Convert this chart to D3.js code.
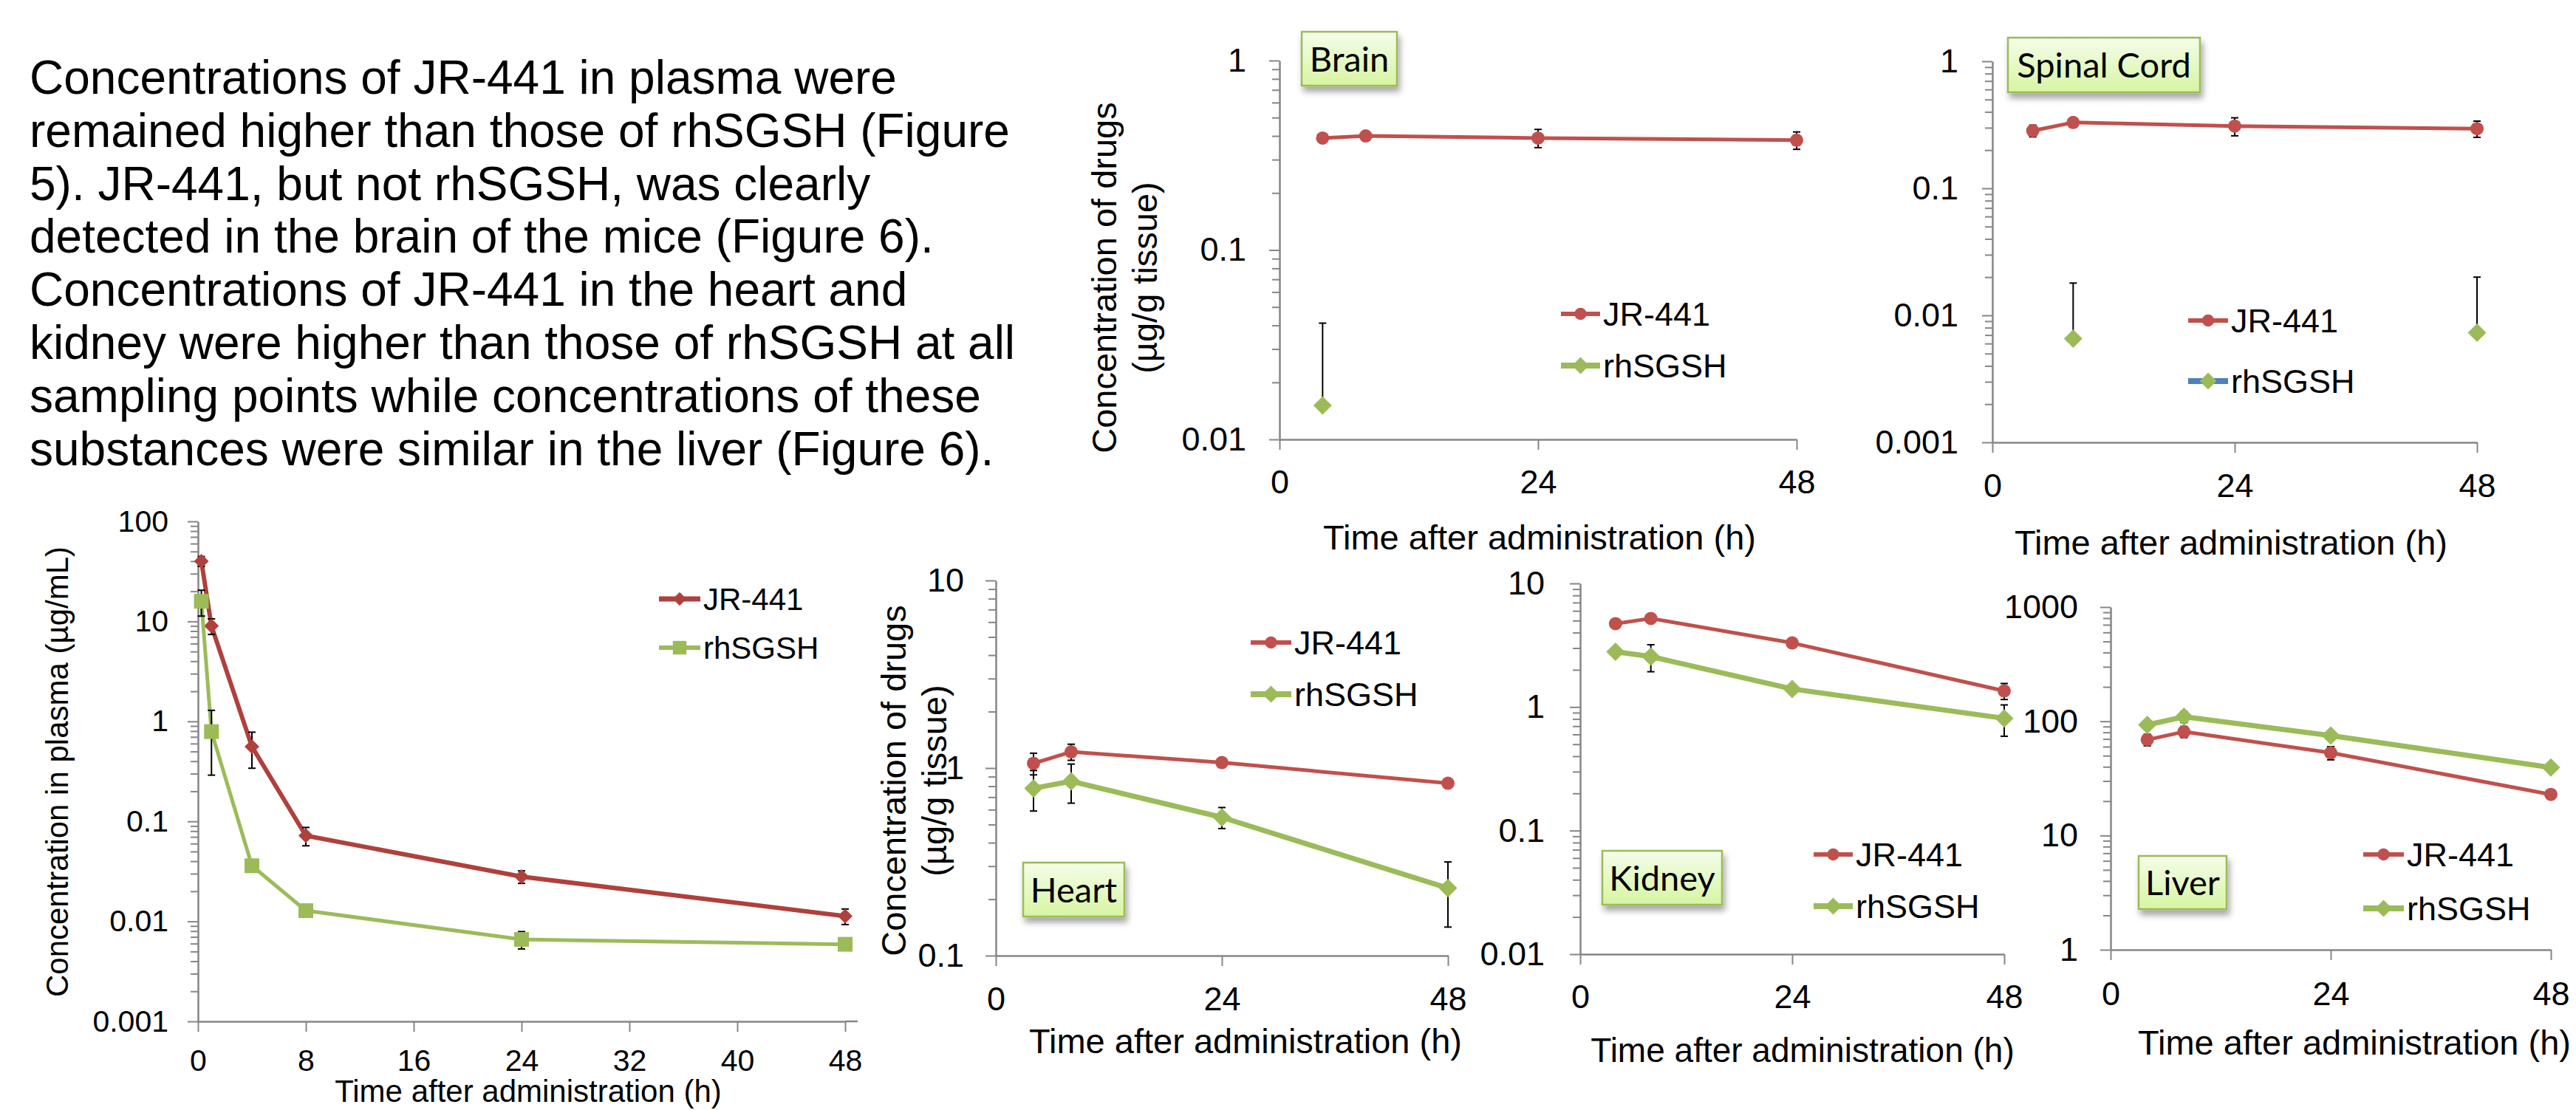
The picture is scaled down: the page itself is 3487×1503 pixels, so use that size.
<!DOCTYPE html>
<html>
<head>
<meta charset="utf-8">
<script src="https://cdn.jsdelivr.net/npm/d3@7"></script>
<style>
  body { margin: 0; background: #fff; }
  svg text { font-family: "Liberation Sans", Arial, sans-serif; fill: #000; }
</style>
</head>
<body>
<svg id="fig" width="3487" height="1503"></svg>
<script>
"use strict";

// ---- data ----
const introLines = [
    "Concentrations of JR-441 in plasma were",
    "remained higher than those of rhSGSH (Figure",
    "5). JR-441, but not rhSGSH, was clearly",
    "detected in the brain of the mice (Figure 6).",
    "Concentrations of JR-441 in the heart and",
    "kidney were higher than those of rhSGSH at all",
    "sampling points while concentrations of these",
    "substances were similar in the liver (Figure 6)."
];

const plasmaTimes = [0.25, 1, 4, 8, 24, 48];
const tissueTimes = [4, 8, 24, 48];
const seriesNames = ["JR-441", "rhSGSH"];

const plasmaJR = [40, 9.0, 0.56, 0.072, 0.028, 0.0113];
const plasmaJRsd = [4.5, 1.6, 0.22, 0.015, 0.004, 0.002];
const plasmaRh = [15.9, 0.79, 0.036, 0.0128, 0.0066, 0.0059];
const plasmaRhSd = [4.6, 0.5, 0.002, 0.0015, 0.0013, 0.0004];

const brainJR = [0.39, 0.40, 0.39, 0.38];
const brainJRsd = [0.012, 0.008, 0.043, 0.04];
const brainRh = [0.0151, null, null, null];
const brainRhSd = [0.026, null, null, null];

const spinalJR = [0.284, 0.33, 0.309, 0.295];
const spinalJRsd = [0.03, 0.01, 0.05, 0.043];
const spinalRh = [null, 0.00655, null, 0.0073];
const spinalRhSd = [null, 0.0114, null, 0.0127];

const heartJR = [1.06, 1.22, 1.07, 0.83];
const heartJRsd = [0.14, 0.12, 0.02, 0.02];
const heartRh = [0.78, 0.85, 0.546, 0.229];
const heartRhSd = [0.19, 0.2, 0.07, 0.087];

const kidneyJR = [4.73, 5.21, 3.30, 1.35];
const kidneyJRsd = [0.15, 0.15, 0.12, 0.2];
const kidneyRh = [2.8, 2.56, 1.40, 0.81];
const kidneyRhSd = [0.08, 0.63, 0.05, 0.23];

const liverJR = [69, 81, 53, 22.9];
const liverJRsd = [8, 9, 7, 1];
const liverRh = [93, 109.5, 75, 39.4];
const liverRhSd = [5, 12, 4, 3];

const plasmaXTicks = [0, 8, 16, 24, 32, 40, 48];
const tissueXTicks = [0, 24, 48];
const plasmaYTicks = [0.001, 0.01, 0.1, 1, 10, 100];
const brainYTicks = [0.01, 0.1, 1];
const spinalYTicks = [0.001, 0.01, 0.1, 1];
const heartYTicks = [0.1, 1, 10];
const kidneyYTicks = [0.01, 0.1, 1, 10];
const liverYTicks = [1, 10, 100, 1000];

const xTitle = "Time after administration (h)";
const tissueYTitle = ["Concentration of drugs", "(µg/g tissue)"];

// ---- styling ----
const RED = "#c0504d", RED_DARK = "#b0403c", GREEN = "#9bbb59", BLUE = "#4f81bd";
const AXIS = "#868686";

const svg = d3.select("#fig");

const defs = svg.append("defs");
const grad = defs.append("linearGradient").attr("id", "boxFill")
    .attr("x1", 0).attr("y1", 0).attr("x2", 0).attr("y2", 1);
grad.append("stop").attr("offset", "0%").attr("stop-color", "#f4fde9");
grad.append("stop").attr("offset", "100%").attr("stop-color", "#d7f5a2");
defs.append("filter").attr("id", "shadow")
    .attr("x", "-20%").attr("y", "-20%").attr("width", "150%").attr("height", "160%")
    .append("feDropShadow")
    .attr("dx", 3).attr("dy", 7).attr("stdDeviation", 4)
    .attr("flood-color", "#000").attr("flood-opacity", 0.35);

function tissueSeries(jr, jrSd, rh, rhSd, rhLegendLine) {
    return [
        { label: seriesNames[0], values: jr, sd: jrSd, color: RED, marker: "circle", size: 9, width: 5 },
        { label: seriesNames[1], values: rh, sd: rhSd, color: GREEN, marker: "diamond", size: 12.5, width: 7,
          legendLine: rhLegendLine }
    ];
}

const panels = [
    {
        name: "plasma", times: plasmaTimes, xTicks: plasmaXTicks, yTicks: plasmaYTicks,
        left: 268, right: 1144, top: 706, bottom: 1383, axisExtra: 17,
        fs: 41, yPad: 26, xPad: 24, titleFs: 42,
        series: [
            { label: seriesNames[0], values: plasmaJR, sd: plasmaJRsd, color: RED_DARK, marker: "diamond", size: 10, width: 6 },
            { label: seriesNames[1], values: plasmaRh, sd: plasmaRhSd, color: GREEN, marker: "square", size: 10, width: 5 }
        ],
        xTitle: { x: 715, y: 1492 },
        yTitle: { x: 92, y: 1045, lines: ["Concentration in plasma (µg/mL)"], gap: 0 },
        legend: { x: 892, y: [811, 877], len: 56, fs: 42 }
    },
    {
        name: "brain", times: tissueTimes, xTicks: tissueXTicks, yTicks: brainYTicks,
        left: 1732, right: 2432, top: 82, bottom: 595,
        fs: 45, yPad: 31, xPad: 27, titleFs: 47,
        series: tissueSeries(brainJR, brainJRsd, brainRh, brainRhSd),
        xTitle: { x: 2084, y: 744 },
        yTitle: { x: 1511, y: 376, lines: tissueYTitle, gap: 55 },
        legend: { x: 2113, y: [425, 495], len: 53, fs: 45 },
        box: { x: 1762, y: 43, w: 129, h: 73, text: "Brain" }
    },
    {
        name: "spinal", times: tissueTimes, xTicks: tissueXTicks, yTicks: spinalYTicks,
        left: 2697, right: 3353, top: 83, bottom: 599,
        fs: 45, yPad: 32, xPad: 28, titleFs: 47,
        series: tissueSeries(spinalJR, spinalJRsd, spinalRh, spinalRhSd, BLUE),
        xTitle: { x: 3020, y: 751 },
        legend: { x: 2962, y: [434, 516], len: 54, fs: 45 },
        box: { x: 2718, y: 51, w: 260, h: 74, text: "Spinal Cord" }
    },
    {
        name: "heart", times: tissueTimes, xTicks: tissueXTicks, yTicks: heartYTicks,
        left: 1348, right: 1960, top: 786, bottom: 1294,
        fs: 45, yPad: 29, xPad: 28, titleFs: 47,
        series: tissueSeries(heartJR, heartJRsd, heartRh, heartRhSd),
        xTitle: { x: 1686, y: 1426 },
        yTitle: { x: 1226, y: 1057, lines: tissueYTitle, gap: 55 },
        legend: { x: 1693, y: [870, 940], len: 55, fs: 45 },
        box: { x: 1385, y: 1168, w: 137, h: 73, text: "Heart" }
    },
    {
        name: "kidney", times: tissueTimes, xTicks: tissueXTicks, yTicks: kidneyYTicks,
        left: 2139, right: 2713, top: 790, bottom: 1292,
        fs: 45, yPad: 34, xPad: 27, titleFs: 46,
        series: tissueSeries(kidneyJR, kidneyJRsd, kidneyRh, kidneyRhSd),
        xTitle: { x: 2440, y: 1438 },
        legend: { x: 2455, y: [1157, 1227], len: 53, fs: 45 },
        box: { x: 2169, y: 1152, w: 162, h: 73, text: "Kidney" }
    },
    {
        name: "liver", times: tissueTimes, xTicks: tissueXTicks, yTicks: liverYTicks,
        left: 2857, right: 3453, top: 822, bottom: 1286,
        fs: 45, yPad: 30, xPad: 29, titleFs: 47,
        series: tissueSeries(liverJR, liverJRsd, liverRh, liverRhSd),
        xTitle: { x: 3187, y: 1428 },
        legend: { x: 3199, y: [1157, 1230], len: 55, fs: 45 },
        box: { x: 2895, y: 1159, w: 119, h: 72, text: "Liver" }
    }
];

function markerPath(type, s) {
    if (type === "circle") return d3.symbol(d3.symbolCircle, Math.PI * s * s)();
    if (type === "square") return `M${-s},${-s}H${s}V${s}H${-s}Z`;
    return `M0,${-s}L${s},0L0,${s}L${-s},0Z`;
}

function fmtTick(d) {
    return d >= 1 ? d3.format("d")(d) : String(+d.toPrecision(1));
}

function styleAxis(sel, fs) {
    sel.select(".domain").attr("stroke", AXIS).attr("stroke-width", 2.5);
    sel.selectAll(".tick line").attr("stroke", AXIS).attr("stroke-width", 2);
    sel.selectAll(".tick text").attr("font-size", fs).attr("fill", "#000")
        .style("font-family", '"Liberation Sans", Arial, sans-serif');
}

function drawPanel(p) {
    const g = svg.append("g").attr("class", "panel " + p.name);
    const x = d3.scaleLinear().domain([0, 48]).range([p.left, p.right]);
    const y = d3.scaleLog().domain(d3.extent(p.yTicks)).range([p.bottom, p.top]);

    // minor log ticks 2..9 in every decade
    const minors = [];
    p.yTicks.slice(0, -1).forEach(base => {
        for (let k = 2; k <= 9; k++) minors.push(base * k);
    });
    g.append("g").attr("transform", `translate(${p.left},0)`)
        .call(d3.axisLeft(y).tickValues(minors).tickSize(10).tickFormat(""))
        .call(s => { s.select(".domain").remove(); s.selectAll("line").attr("stroke", AXIS).attr("stroke-width", 2); });

    g.append("g").attr("transform", `translate(${p.left},0)`)
        .call(d3.axisLeft(y).tickValues(p.yTicks).tickSize(14).tickSizeOuter(0)
            .tickPadding(p.yPad).tickFormat(fmtTick))
        .call(s => styleAxis(s, p.fs));

    g.append("g").attr("transform", `translate(0,${p.bottom})`)
        .call(d3.axisBottom(x).tickValues(p.xTicks).tickSize(14).tickSizeOuter(0)
            .tickPadding(p.xPad).tickFormat(d3.format("d")))
        .call(s => styleAxis(s, p.fs));

    if (p.axisExtra) {
        g.append("line")
            .attr("x1", x(48)).attr("x2", x(48) + p.axisExtra)
            .attr("y1", p.bottom).attr("y2", p.bottom)
            .attr("stroke", AXIS).attr("stroke-width", 2.5);
    }

    // axis titles
    g.append("text").attr("x", p.xTitle.x).attr("y", p.xTitle.y)
        .attr("text-anchor", "middle").attr("font-size", p.titleFs).text(xTitle);
    if (p.yTitle) {
        p.yTitle.lines.forEach((line, i) => {
            g.append("text")
                .attr("transform", `translate(${p.yTitle.x + i * p.yTitle.gap},${p.yTitle.y}) rotate(-90)`)
                .attr("text-anchor", "middle").attr("font-size", p.titleFs).text(line);
        });
    }

    // series
    p.series.forEach(s => {
        const rows = p.times.map((t, i) => ({ t: t, v: s.values[i], sd: s.sd[i] }));
        const pts = rows.filter(d => d.v != null);

        g.append("path").datum(rows)
            .attr("fill", "none").attr("stroke", s.color).attr("stroke-width", s.width)
            .attr("stroke-linejoin", "round")
            .attr("d", d3.line().defined(d => d.v != null).x(d => x(d.t)).y(d => y(d.v)));

        const eb = g.append("g").attr("stroke", "#000").attr("stroke-width", 2);
        pts.filter(d => d.sd).forEach(d => {
            const cx = x(d.t);
            const hi = y(d.v + d.sd);
            const lo = d.v - d.sd > 0 ? y(d.v - d.sd) : y(d.v);
            eb.append("line").attr("x1", cx).attr("x2", cx).attr("y1", hi).attr("y2", lo);
            eb.append("line").attr("x1", cx - 5).attr("x2", cx + 5).attr("y1", hi).attr("y2", hi);
            if (d.v - d.sd > 0) {
                eb.append("line").attr("x1", cx - 5).attr("x2", cx + 5).attr("y1", lo).attr("y2", lo);
            }
        });

        g.selectAll(null).data(pts).join("path")
            .attr("transform", d => `translate(${x(d.t)},${y(d.v)})`)
            .attr("d", markerPath(s.marker, s.size))
            .attr("fill", s.color);
    });

    // legend
    const lg = g.append("g");
    p.series.forEach((s, i) => {
        const ly = p.legend.y[i];
        lg.append("line")
            .attr("x1", p.legend.x).attr("x2", p.legend.x + p.legend.len)
            .attr("y1", ly).attr("y2", ly)
            .attr("stroke", s.legendLine || s.color).attr("stroke-width", s.width + 1);
        lg.append("path")
            .attr("transform", `translate(${p.legend.x + p.legend.len / 2},${ly})`)
            .attr("d", markerPath(s.marker, s.size * 0.92))
            .attr("fill", s.color);
        lg.append("text")
            .attr("x", p.legend.x + p.legend.len + 4).attr("y", ly + p.legend.fs * 0.36)
            .attr("font-size", p.legend.fs).text(s.label);
    });

    // organ label box
    if (p.box) {
        const b = p.box;
        g.append("rect").attr("x", b.x).attr("y", b.y).attr("width", b.w).attr("height", b.h)
            .attr("fill", "url(#boxFill)").attr("stroke", GREEN).attr("stroke-width", 2.5)
            .attr("filter", "url(#shadow)");
        g.append("text").attr("x", b.x + b.w / 2).attr("y", b.y + b.h / 2 + 17)
            .attr("text-anchor", "middle").attr("font-size", 47)
            .style("font-family", "Lato, 'Open Sans', sans-serif")
            .text(b.text);
    }
}

panels.forEach(drawPanel);

// intro paragraph
svg.append("text")
    .attr("x", 40).attr("y", 127).attr("font-size", 64)
    .selectAll("tspan").data(introLines).join("tspan")
    .attr("x", 40).attr("dy", (d, i) => i === 0 ? 0 : 71.8)
    .text(d => d);
</script>
</body>
</html>
